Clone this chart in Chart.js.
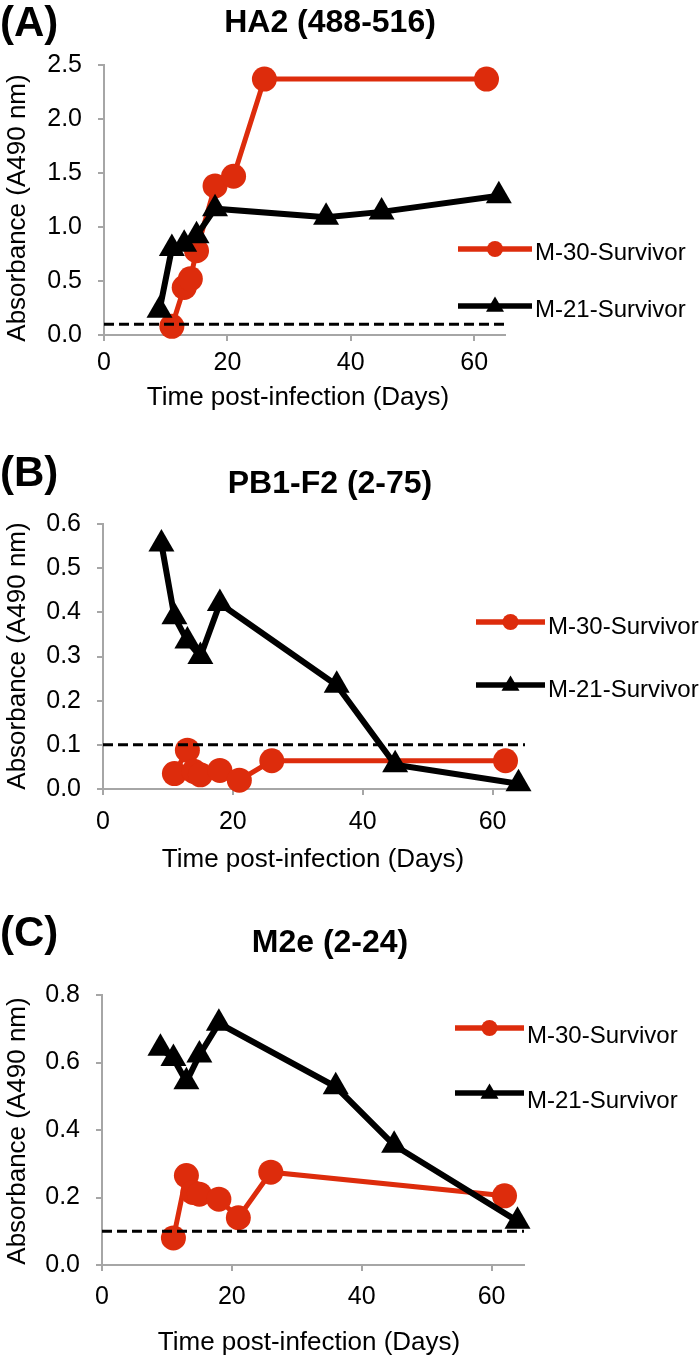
<!DOCTYPE html>
<html>
<head>
<meta charset="utf-8">
<script src="https://cdn.jsdelivr.net/npm/chart.js@4.4.0/dist/chart.umd.min.js"></script>
<style>
  body { margin: 0; background: #fff; }
  #wrap { position: relative; width: 700px; height: 1359px; }
  canvas { position: absolute; left: 0; }
</style>
</head>
<body>
<div id="wrap">
  <canvas id="chartA" width="700" height="453" style="top:0px"></canvas>
  <canvas id="chartB" width="700" height="453" style="top:453px"></canvas>
  <canvas id="chartC" width="700" height="453" style="top:906px"></canvas>
</div>
<script>
// sampling days
const daysM30 = [11, 13, 14, 15, 18, 21, 26, 62];
const daysM21 = [9, 11, 13, 15, 18, 36, 45, 64];

// HA2 (488-516)
const ha2M30 = [0.08, 0.44, 0.52, 0.78, 1.38, 1.47, 2.37, 2.37];
const ha2M21 = [0.23, 0.80, 0.84, 0.92, 1.17, 1.09, 1.14, 1.29];

// PB1-F2 (2-75)
const pb1M30 = [0.035, 0.088, 0.04, 0.032, 0.042, 0.02, 0.064, 0.064];
const pb1M21 = [0.555, 0.39, 0.335, 0.30, 0.42, 0.235, 0.055, 0.012];

// M2e (2-24)
const m2eM30 = [0.08, 0.265, 0.215, 0.21, 0.195, 0.14, 0.275, 0.205];
const m2eM21 = [0.642, 0.612, 0.543, 0.622, 0.716, 0.528, 0.355, 0.13];

const cutoff = 0.1;   // dashed line
const xTicks = [0, 20, 40, 60];
const yTicksA = [0, 0.5, 1, 1.5, 2, 2.5];
const yTicksB = [0, 0.1, 0.2, 0.3, 0.4, 0.5, 0.6];
const yTicksC = [0, 0.2, 0.4, 0.6, 0.8];
const seriesNames = ['M-30-Survivor', 'M-21-Survivor'];

const RED = '#dd2c0c';
const AXIS = '#a6a6a6';
const FONT = "'Liberation Sans', Arial, sans-serif";
Chart.defaults.font.family = FONT;
Chart.defaults.color = '#000';

function marker(ctx, style, x, y, r) {
  ctx.beginPath();
  if (style === 'circle') {
    ctx.arc(x, y, r, 0, Math.PI * 2);
  } else {
    ctx.moveTo(x, y - r);
    ctx.lineTo(x + r * 0.95, y + r * 0.6);
    ctx.lineTo(x - r * 0.95, y + r * 0.6);
    ctx.closePath();
  }
  ctx.fill();
}

// letters, titles, axis titles and legend
const textPlugin = {
  id: 'panelText',
  afterDraw(chart, args, o) {
    const ctx = chart.ctx;
    ctx.save();
    ctx.fillStyle = '#000';
    ctx.textBaseline = 'middle';
    ctx.font = 'bold 42px ' + FONT;
    ctx.textAlign = 'left';
    ctx.fillText(o.letter, 0, o.letterY);
    ctx.font = 'bold 32px ' + FONT;
    ctx.textAlign = 'center';
    ctx.fillText(o.title, 330, o.titleY);

    ctx.font = '26px ' + FONT;
    ctx.fillText('Time post-infection (Days)', o.xTitle[0], o.xTitle[1]);
    ctx.save();
    ctx.translate(18, o.yTitleY);
    ctx.rotate(-Math.PI / 2);
    ctx.fillText('Absorbance (A490 nm)', 0, 0);
    ctx.restore();

    // legend
    ctx.font = '24px ' + FONT;
    ctx.textAlign = 'left';
    [0, 1].forEach(i => {
      const ds = chart.data.datasets[i];
      const y = o.legY[i];
      ctx.strokeStyle = ds.borderColor;
      ctx.fillStyle = ds.borderColor;
      ctx.lineWidth = 5.5;
      ctx.beginPath();
      ctx.moveTo(o.legX[0], y);
      ctx.lineTo(o.legX[1], y);
      ctx.stroke();
      marker(ctx, ds.pointStyle, (o.legX[0] + o.legX[1]) / 2, y, ds.pointStyle === 'circle' ? 8 : 9.5);
      ctx.fillStyle = '#000';
      ctx.fillText(ds.label, o.legX[1] + 3, y + o.legDy);
    });
    ctx.restore();
  }
};

function makeChart(id, m30, m21, yTicks, area, xPad, text) {
  const pts = (xs, ys) => xs.map((x, i) => ({x: x, y: ys[i]}));
  const H = 453;
  return new Chart(document.getElementById(id), {
    type: 'line',
    data: {
      datasets: [{
        label: seriesNames[0],
        data: pts(daysM30, m30),
        borderColor: RED,
        backgroundColor: RED,
        borderWidth: 5,
        pointStyle: 'circle',
        pointRadius: 12.5,
        pointBorderWidth: 0,
        order: 2,
        clip: false
      }, {
        label: seriesNames[1],
        data: pts(daysM21, m21),
        borderColor: '#000',
        backgroundColor: '#000',
        borderWidth: 6,
        pointStyle: 'triangle',
        pointRadius: 15,
        pointBorderWidth: 0,
        order: 1,
        clip: false
      }, {
        label: 'cutoff',
        data: [{x: 0, y: cutoff}, {x: 65, y: cutoff}],
        borderColor: '#000',
        borderWidth: 3,
        borderDash: [10, 5],
        pointRadius: 0,
        order: 0
      }]
    },
    options: {
      responsive: false,
      animation: false,
      layout: { padding: { left: 0, top: area.top, right: 700 - area.right, bottom: 0 } },
      plugins: {
        legend: { display: false },
        tooltip: { enabled: false },
        panelText: text
      },
      scales: {
        x: {
          type: 'linear',
          min: 0,
          max: 65,
          afterFit: s => { s.height = H - area.bottom; },
          afterBuildTicks: s => { s.ticks = xTicks.map(v => ({value: v})); },
          border: { display: true, color: AXIS, width: 2 },
          grid: { drawOnChartArea: false, color: AXIS, lineWidth: 2, tickLength: 6 },
          ticks: { font: { size: 25 }, padding: xPad, maxRotation: 0 }
        },
        y: {
          min: 0,
          max: yTicks[yTicks.length - 1],
          afterFit: s => { s.width = area.left; },
          afterBuildTicks: s => { s.ticks = yTicks.map(v => ({value: v})); },
          border: { display: true, color: AXIS, width: 2 },
          grid: { drawOnChartArea: false, color: AXIS, lineWidth: 2, tickLength: 6 },
          ticks: { font: { size: 25 }, padding: 16, callback: v => v.toFixed(1) }
        }
      }
    },
    plugins: [textPlugin]
  });
}

makeChart('chartA', ha2M30, ha2M21, yTicksA,
  {left: 104, right: 505, top: 65, bottom: 335}, 7,
  {letter: '(A)', letterY: 24, title: 'HA2 (488-516)', titleY: 23,
   xTitle: [298, 398], yTitleY: 208, legX: [458, 532], legY: [249, 306], legDy: 4});

makeChart('chartB', pb1M30, pb1M21, yTicksB,
  {left: 103, right: 525, top: 71, bottom: 336}, 12,
  {letter: '(B)', letterY: 21, title: 'PB1-F2 (2-75)', titleY: 31,
   xTitle: [313, 407], yTitleY: 203, legX: [476, 545], legY: [169, 232], legDy: 5});

makeChart('chartC', m2eM30, m2eM21, yTicksC,
  {left: 102, right: 524, top: 89, bottom: 359}, 11,
  {letter: '(C)', letterY: 28, title: 'M2e (2-24)', titleY: 37,
   xTitle: [309, 437], yTitleY: 225, legX: [455, 524], legY: [122, 187], legDy: 8});
</script>
</body>
</html>
